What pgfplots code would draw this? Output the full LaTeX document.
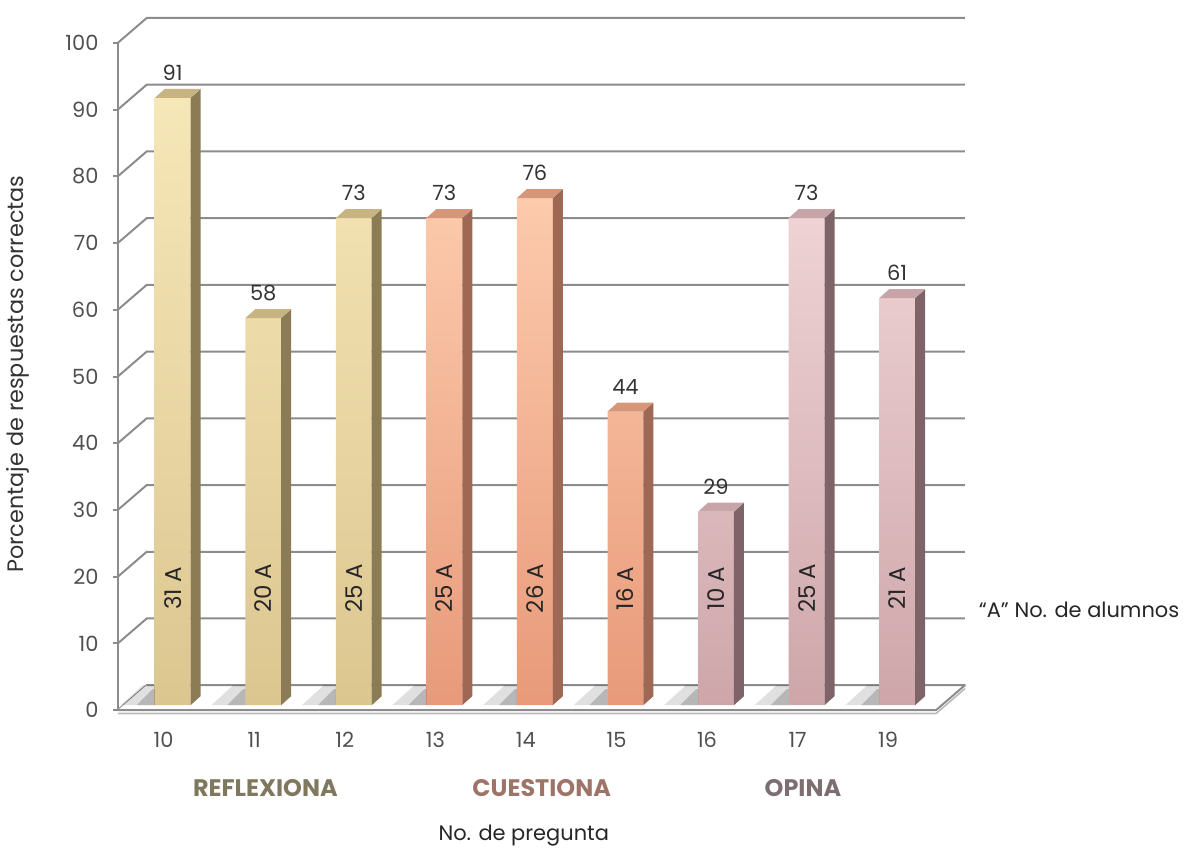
\documentclass[border=0pt]{standalone}
\usepackage{pgfplots}
\pgfplotsset{compat=1.18}
\usepackage{pgfplotstable}
\usepackage{fontspec}
\setmainfont{Poppins}

% bar colours: front (top/bottom of gradient), side face, top face
\definecolor{tanHi}{RGB}{246,231,184}
\definecolor{tanLo}{RGB}{220,198,144}
\definecolor{tanSide}{RGB}{140,124,86}
\definecolor{tanCap}{RGB}{200,180,130}
\definecolor{salHi}{RGB}{252,202,172}
\definecolor{salLo}{RGB}{232,154,122}
\definecolor{salSide}{RGB}{158,104,84}
\definecolor{salCap}{RGB}{214,150,122}
\definecolor{pinkHi}{RGB}{238,210,212}
\definecolor{pinkLo}{RGB}{206,166,170}
\definecolor{pinkSide}{RGB}{126,100,104}
\definecolor{pinkCap}{RGB}{198,164,168}
\definecolor{gridgray}{RGB}{140,140,140}
\definecolor{ticktext}{RGB}{80,80,80}
\definecolor{lblRef}{RGB}{128,120,94}
\definecolor{lblCue}{RGB}{158,116,104}
\definecolor{lblOpi}{RGB}{125,110,114}

% side face of a bar (plus its floor shadow, kept left of the front face);
% \barval holds the bar's value
\pgfdeclareplotmark{barside}{%
  \pgfmathsetmacro\bh{\barval*3.345}%
  \begin{pgfscope}
    \pgfsetfillcolor{black}\pgfsetfillopacity{0.12}%
    \pgfpathmoveto{\pgfpoint{-9pt}{-\bh pt}}%
    \pgfpathlineto{\pgfpoint{-26pt}{-\bh pt}}%
    \pgfpathlineto{\pgfpoint{-15pt}{-\bh pt+10pt}}%
    \pgfpathlineto{\pgfpoint{-9pt}{-\bh pt+10pt}}%
    \pgfpathclose
    \pgfusepathqfill
    \pgfsetfillopacity{0.18}%
    \pgfpathmoveto{\pgfpoint{-9pt}{-\bh pt}}%
    \pgfpathlineto{\pgfpoint{-18pt}{-\bh pt}}%
    \pgfpathlineto{\pgfpoint{-10pt}{-\bh pt+8pt}}%
    \pgfpathlineto{\pgfpoint{-9pt}{-\bh pt+8pt}}%
    \pgfpathclose
    \pgfusepathqfill
  \end{pgfscope}
  \pgfpathmoveto{\pgfpoint{9pt}{0pt}}%
  \pgfpathlineto{\pgfpoint{14pt}{4.5pt}}%
  \pgfpathlineto{\pgfpoint{14pt}{-\bh pt+4.5pt}}%
  \pgfpathlineto{\pgfpoint{9pt}{-\bh pt}}%
  \pgfpathclose
  \pgfusepathqfill
}
% top face of a bar
\pgfdeclareplotmark{bartop}{%
  \pgfpathmoveto{\pgfpoint{-9pt}{0pt}}%
  \pgfpathlineto{\pgfpoint{9pt}{0pt}}%
  \pgfpathlineto{\pgfpoint{14pt}{4.5pt}}%
  \pgfpathlineto{\pgfpoint{-4pt}{4.5pt}}%
  \pgfpathclose
  \pgfusepathqfill
}

\pgfplotstableread{
idx pct alum
0 91 31
1 58 20
2 73 25
}\reflexiona
\pgfplotstableread{
idx pct alum
3 73 25
4 76 26
5 44 16
}\cuestiona
\pgfplotstableread{
idx pct alum
6 29 10
7 73 25
8 61 21
}\opina

\begin{document}
\begin{tikzpicture}
\begin{axis}[
  x=45.4pt, y=3.345pt,
  xmin=-0.545, xmax=8.49, ymin=0, ymax=100,
  enlargelimits=false, clip=false,
  axis line style={draw=none},
  major tick length=0pt,
  xtick={0,...,8},
  xticklabels={10,11,12,13,14,15,16,17,19},
  ytick={0,10,...,100},
  /pgf/number format/assume math mode=true,
  tick label style={font=\fontsize{10.5}{12}\selectfont, text=ticktext, inner sep=0pt},
  yticklabel style={anchor=east, xshift=-12.25pt, yshift=-2.5pt},
  xticklabel style={anchor=north, xshift=-4.5pt, yshift=-13.5pt},
]
% canvas
\path (axis cs:-1.8722,-23.318) rectangle (axis cs:11.1564,105.68);

% back wall grid, depth diagonals and front axis
\pgfplotsinvokeforeach{0,10,...,100}{
  \draw[gridgray, line width=1pt]
    ([shift={(-2.75pt,-2.5pt)}]axis cs:-0.545,#1) -- ([shift={(11.75pt,10pt)}]axis cs:-0.545,#1)
    -- ([shift={(11.75pt,10pt)}]axis cs:8.49,#1);
  \draw[gridgray, line width=1pt]
    ([shift={(-5.25pt,-2.5pt)}]axis cs:-0.545,#1) -- ([shift={(-2.75pt,-2.5pt)}]axis cs:-0.545,#1);
}
\draw[gridgray, line width=1pt]
  ([shift={(-2.75pt,-2.5pt)}]axis cs:-0.545,0) -- ([shift={(-2.75pt,-2.5pt)}]axis cs:-0.545,100);

% floor plate
\fill[white] ([shift={(-2.75pt,-2.5pt)}]axis cs:-0.545,0) -- ([shift={(-2.75pt,-2.5pt)}]axis cs:8.49,0)
  -- ([shift={(11.75pt,10pt)}]axis cs:8.49,0) -- ([shift={(11.75pt,10pt)}]axis cs:-0.545,0) -- cycle;
\draw[gridgray, line width=1pt, line join=round]
  ([shift={(-2.75pt,-2.5pt)}]axis cs:-0.545,0) -- ([shift={(-2.75pt,-2.5pt)}]axis cs:8.49,0)
  -- ([shift={(11.75pt,10pt)}]axis cs:8.49,0) -- ([shift={(11.75pt,10pt)}]axis cs:-0.545,0);
\draw[gridgray!60, line width=0.8pt]
  ([shift={(-2.75pt,-4.2pt)}]axis cs:-0.545,0) -- ([shift={(-2.75pt,-4.2pt)}]axis cs:8.49,0)
  -- ([shift={(11.75pt,8.3pt)}]axis cs:8.49,0);

% side faces and floor shadows
\addplot[only marks, mark=barside, mark options={fill=tanSide, draw=none},
  visualization depends on={\thisrow{pct} \as \barval}] table[x=idx, y=pct] {\reflexiona};
\addplot[only marks, mark=barside, mark options={fill=salSide, draw=none},
  visualization depends on={\thisrow{pct} \as \barval}] table[x=idx, y=pct] {\cuestiona};
\addplot[only marks, mark=barside, mark options={fill=pinkSide, draw=none},
  visualization depends on={\thisrow{pct} \as \barval}] table[x=idx, y=pct] {\opina};

% front faces
\addplot[ybar, bar shift=0pt, bar width=18pt, draw=none, top color=tanHi, bottom color=tanLo]
  table[x=idx, y=pct] {\reflexiona};
\addplot[ybar, bar shift=0pt, bar width=18pt, draw=none, top color=salHi, bottom color=salLo]
  table[x=idx, y=pct] {\cuestiona};
\addplot[ybar, bar shift=0pt, bar width=18pt, draw=none, top color=pinkHi, bottom color=pinkLo]
  table[x=idx, y=pct] {\opina};

% top faces with value labels
\pgfplotsset{every node near coord/.append style={anchor=center, yshift=12.5pt,
  font=\fontsize{10.5}{12}\selectfont, text=black!80}}
\addplot[only marks, mark=bartop, mark options={fill=tanCap, draw=none}, nodes near coords]
  table[x=idx, y=pct] {\reflexiona};
\addplot[only marks, mark=bartop, mark options={fill=salCap, draw=none}, nodes near coords]
  table[x=idx, y=pct] {\cuestiona};
\addplot[only marks, mark=bartop, mark options={fill=pinkCap, draw=none}, nodes near coords]
  table[x=idx, y=pct] {\opina};

% number of students inside each bar
\begin{scope}[every node/.style={rotate=90, font=\fontsize{11.5}{13}\selectfont, text=black!85}]
\node at (axis cs:0,17.5) {31 A};
\node at (axis cs:1,17.5) {20 A};
\node at (axis cs:2,17.5) {25 A};
\node at (axis cs:3,17.5) {25 A};
\node at (axis cs:4,17.5) {26 A};
\node at (axis cs:5,17.5) {16 A};
\node at (axis cs:6,17.5) {10 A};
\node at (axis cs:7,17.5) {25 A};
\node at (axis cs:8,17.5) {21 A};
\end{scope}

% group names
\node[font=\bfseries\fontsize{12}{14}\selectfont, text=lblRef] at (axis cs:1.024,-12.41) {REFLEXIONA};
\node[font=\bfseries\fontsize{12}{14}\selectfont, text=lblCue] at (axis cs:4.075,-12.41) {CUESTIONA};
\node[font=\bfseries\fontsize{12}{14}\selectfont, text=lblOpi] at (axis cs:6.96,-12.41) {OPINA};

% axis titles and note
\node[rotate=90, font=\fontsize{11.2}{13}\selectfont, text=black!80] at (axis cs:-1.707,49.63)
  {Porcentaje de respuestas correctas};
\node[font=\fontsize{10.5}{12}\selectfont, text=black!85] at (axis cs:3.877,-19.58) {No. de pregunta};
\node[anchor=east, inner sep=0pt, font=\fontsize{10.5}{12}\selectfont, text=black!85]
  at (axis cs:11.12,14.35) {“A” No. de alumnos};
\end{axis}
\end{tikzpicture}
\end{document}
